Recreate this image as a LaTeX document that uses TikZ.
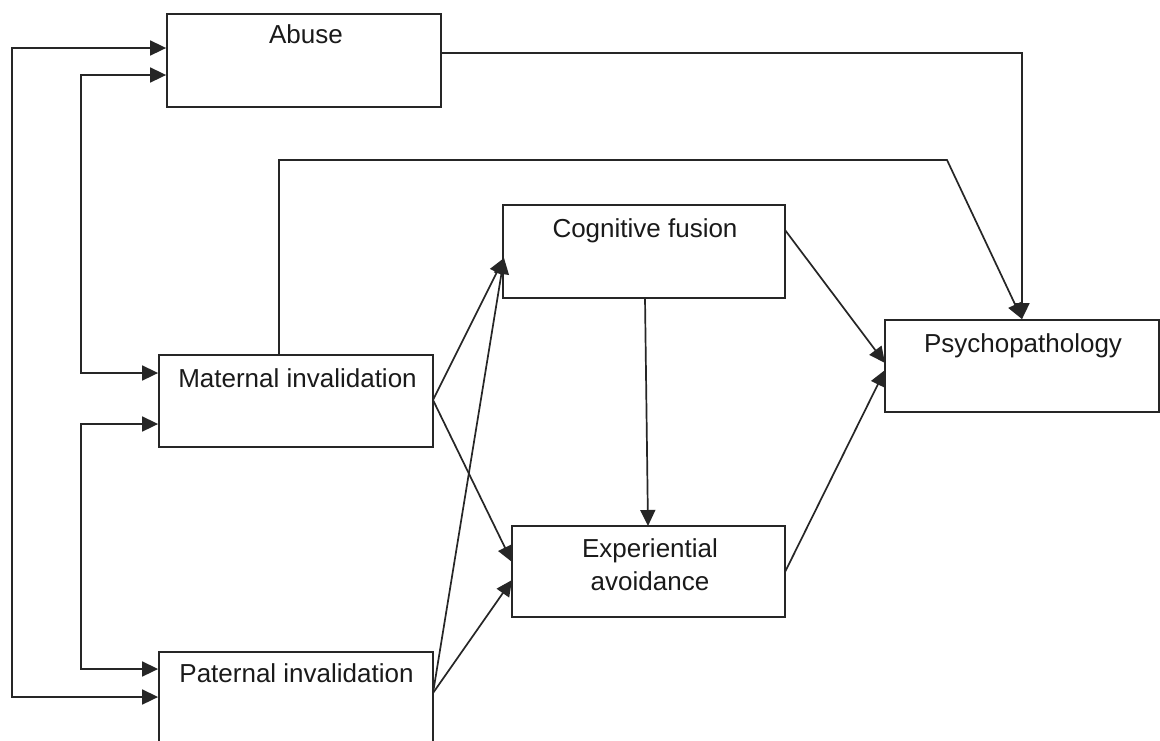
\documentclass[tikz,border=0pt]{standalone}
\usepackage{fontspec}
\setmainfont{Liberation Sans}
\usetikzlibrary{arrows.meta}
\definecolor{linec}{HTML}{262626}
\definecolor{textc}{HTML}{1A1A1A}
\begin{document}
\begin{tikzpicture}[x=0.5pt,y=-0.5pt,
  box/.style={draw=linec, line width=0.9pt, rectangle, inner sep=0pt, fill=white},
  lbl/.style={font=\fontsize{13}{15.6}\selectfont, text=textc, anchor=base, inner sep=0pt},
  conn/.style={draw=linec, line width=0.85pt, -{Triangle[length=8pt,width=7.5pt]}},
  dconn/.style={draw=linec, line width=0.85pt, {Triangle[length=8pt,width=7.5pt]}-{Triangle[length=8pt,width=7.5pt]}},
  plain/.style={draw=linec, line width=0.85pt}]
\useasboundingbox[fill=white] (0,0) rectangle (1160,740);

% boxes
\node[box, minimum width=137pt, minimum height=46.5pt] (abuse) at (304,60.5) {};
\node[box, minimum width=137pt, minimum height=46pt] (maternal) at (296,401) {};
\node[box, minimum width=137pt, minimum height=46.5pt] (paternal) at (296,698.5) {};
\node[box, minimum width=141pt, minimum height=46.5pt] (cog) at (644,251.5) {};
\node[box, minimum width=136.5pt, minimum height=45.5pt] (exp) at (648.5,571.5) {};
\node[box, minimum width=137pt, minimum height=46pt] (psy) at (1022,366) {};

% labels
\node[lbl] (abuseT) at (306,43) {Abuse};
\node[lbl] (maternalT) at (297.5,387) {Maternal invalidation};
\node[lbl] (paternalT) at (296.5,682) {Paternal invalidation};
\node[lbl] (cogT) at (645,237) {Cognitive fusion};
\node[lbl] (expT1) at (650,557) {Experiential};
\node[lbl] (expT2) at (650,590) {avoidance};
\node[lbl] (psyT) at (1023,352) {Psychopathology};

% helper coordinates
\coordinate (oa) at (12,48);
\coordinate (ob) at (12,697);
\coordinate (ia) at (81,75);
\coordinate (ib) at (81,373);
\coordinate (ic) at (81,424);
\coordinate (id) at (81,669);
\coordinate (ab) at (1022,53);
\coordinate (ma) at (279,355);
\coordinate (mb) at (279,160);
\coordinate (mc) at (947,160);
\coordinate (me) at (433,400);
\coordinate (pe) at (433,693);
\coordinate (cin) at (504,258);
\coordinate (ein1) at (512,562);
\coordinate (ein2) at (512,580);
\coordinate (cbot) at (645,298);
\coordinate (etop) at (648,526);
\coordinate (cout) at (785,230);
\coordinate (eout) at (785,572);
\coordinate (pin1) at (885,363);
\coordinate (pin2) at (885,370);

% left bidirectional connectors
\draw[dconn] (abuse.west |- oa) -- (oa) -- (ob) -- (paternal.west |- ob);
\draw[dconn] (abuse.west |- ia) -- (ia) -- (ib) -- (maternal.west |- ib);
\draw[dconn] (maternal.west |- ic) -- (ic) -- (id) -- (paternal.west |- id);

% to psychopathology (top)
\draw[conn] (abuse.east |- ab) -- (ab) -- (psy.north);
\draw[conn] (maternal.north -| ma) -- (mb) -- (mc) -- (psy.north);

% predictors to mediators
\draw[conn] (me) -- (cin);
\draw[conn] (me) -- (ein1);
\draw[conn] (pe) -- (cin);
\draw[conn] (pe) -- (ein2);

% mediators
\draw[conn] (cbot) -- (etop);
\draw[conn] (cout) -- (pin1);
\draw[conn] (eout) -- (pin2);
\end{tikzpicture}
\end{document}
